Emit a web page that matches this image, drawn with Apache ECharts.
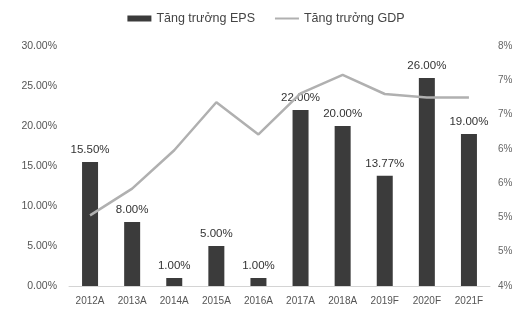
<!DOCTYPE html>
<html>
<head>
<meta charset="utf-8">
<script src="https://cdn.jsdelivr.net/npm/echarts@6/dist/echarts.min.js"></script>
<style>
  html, body { margin: 0; padding: 0; background: #fff; }
  #chart { width: 532px; height: 315px; }
</style>
</head>
<body>
<div id="chart"></div>
<script>
const years = ["2012A", "2013A", "2014A", "2015A", "2016A", "2017A", "2018A", "2019F", "2020F", "2021F"];
const epsGrowth = [15.5, 8.0, 1.0, 5.0, 1.0, 22.0, 20.0, 13.77, 26.0, 19.0];
const gdpGrowth = [5.03, 5.42, 5.98, 6.68, 6.21, 6.81, 7.08, 6.8, 6.75, 6.75];

const chart = echarts.init(document.getElementById("chart"));
const font = "Liberation Sans";

const option = {
  animation: false,
  backgroundColor: "#fff",
  legend: {
    top: 7,
    left: "center",
    itemGap: 20,
    itemWidth: 24,
    itemHeight: 6,
    textStyle: { fontFamily: font, fontSize: 12.5, color: "#444" },
    data: [
      { name: "Tăng trưởng EPS", icon: "rect" },
      { name: "Tăng trưởng GDP", icon: "path://M0,0H24V2H0Z", itemStyle: { color: "#b0b0b0" } }
    ]
  },
  grid: { left: 69, right: 42, top: 46, bottom: 29 },
  xAxis: {
    type: "category",
    data: years,
    axisTick: { show: false },
    axisLine: { lineStyle: { color: "#d4d4d4" } },
    axisLabel: { fontFamily: font, fontSize: 10, color: "#555", margin: 10 }
  },
  yAxis: [
    {
      type: "value",
      min: 0,
      max: 30,
      interval: 5,
      splitLine: { show: false },
      axisLine: { show: false },
      axisTick: { show: false },
      axisLabel: {
        fontFamily: font, fontSize: 10.5, color: "#555", margin: 12,
        formatter: v => v.toFixed(2) + "%"
      }
    },
    {
      type: "value",
      min: 4,
      max: 7.5,
      interval: 0.5,
      splitLine: { show: false },
      axisLine: { show: false },
      axisTick: { show: false },
      axisLabel: {
        fontFamily: font, fontSize: 10, color: "#666", margin: 8,
        formatter: v => Math.round(v) + "%"
      }
    }
  ],
  series: [
    {
      name: "Tăng trưởng EPS",
      type: "bar",
      data: epsGrowth,
      barWidth: 16,
      itemStyle: { color: "#3b3b3b" },
      label: {
        show: true,
        position: "top",
        distance: 6,
        fontFamily: font,
        fontSize: 11.5,
        color: "#333",
        formatter: p => p.value.toFixed(2) + "%"
      }
    },
    {
      name: "Tăng trưởng GDP",
      type: "line",
      yAxisIndex: 1,
      data: gdpGrowth,
      symbol: "none",
      lineStyle: { color: "#b0b0b0", width: 2.5 },
      itemStyle: { color: "#b0b0b0" }
    }
  ]
};
chart.setOption(option);
</script>
</body>
</html>
